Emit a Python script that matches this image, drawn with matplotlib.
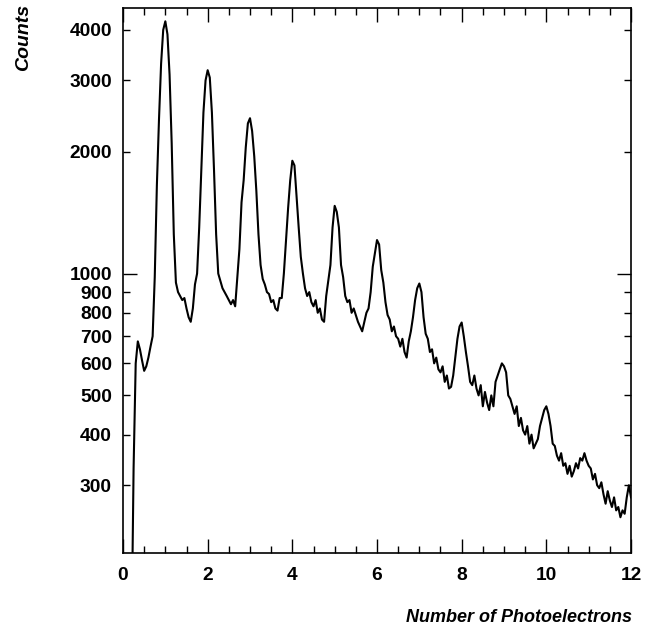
import numpy as np
import matplotlib
matplotlib.use("Agg")
import matplotlib.pyplot as plt
from matplotlib.ticker import FixedLocator, MultipleLocator

# Number of photoelectrons (bin centres, step 0.05 from 0.20 to 12.00)
x_start, x_step = 0.20, 0.05
counts = [
    120, 330, 600, 680, 650, 610, 575, 590, 620, 660, 700, 980,            # 0.20-0.75
    1650, 2400, 3300, 4000, 4200, 3900, 3100, 2100, 1250, 950,             # 0.80-1.25
    900, 880, 860, 870, 820, 780, 760, 820, 940, 1000,                     # 1.30-1.75
    1300, 1800, 2500, 3000, 3180, 3050, 2500, 1800, 1250, 1000,            # 1.80-2.25
    960, 920, 900, 880, 860, 840, 860, 830, 980, 1150,                     # 2.30-2.75
    1500, 1700, 2050, 2350, 2420, 2250, 1950, 1600, 1250, 1050,            # 2.80-3.25
    970, 940, 900, 890, 850, 860, 820, 810, 870, 870,                      # 3.30-3.75
    1000, 1200, 1450, 1700, 1900, 1850, 1550, 1300, 1100, 1000,            # 3.80-4.25
    920, 880, 900, 850, 830, 860, 800, 820, 770, 760,                      # 4.30-4.75
    880, 960, 1050, 1300, 1470, 1420, 1300, 1050, 980, 880,                # 4.80-5.25
    850, 860, 800, 820, 790, 760, 740, 720, 760, 800,                      # 5.30-5.75
    820, 900, 1040, 1120, 1210, 1180, 1020, 950, 850, 790,                 # 5.80-6.25
    770, 720, 740, 700, 690, 660, 690, 640, 620, 680,                      # 6.30-6.75
    720, 780, 860, 920, 945, 900, 780, 710, 690, 640,                      # 6.80-7.25
    650, 600, 620, 580, 570, 590, 540, 560, 520, 525,                      # 7.30-7.75
    560, 620, 690, 740, 757, 700, 640, 590, 540, 530,                      # 7.80-8.25
    560, 520, 500, 530, 470, 510, 480, 460, 500, 470,                      # 8.30-8.75
    540, 560, 580, 600, 590, 570, 500, 490, 470, 450,                      # 8.80-9.25
    470, 420, 440, 410, 400, 420, 380, 400, 370, 380,                      # 9.30-9.75
    390, 420, 440, 460, 470, 450, 420, 380, 375, 355,                      # 9.80-10.25
    345, 360, 335, 340, 320, 335, 315, 325, 340, 330,                      # 10.30-10.75
    350, 345, 360, 345, 335, 330, 310, 320, 300, 295,                      # 10.80-11.25
    305, 285, 270, 290, 275, 265, 280, 260, 265, 250,                      # 11.30-11.75
    260, 255, 280, 300, 280,                                               # 11.80-12.00
]
x = x_start + x_step * np.arange(len(counts))

y_major = [1000]
y_minor = [300, 400, 500, 600, 700, 800, 900, 2000, 3000, 4000]

plt.rcParams['font.family'] = ['Liberation Sans', 'DejaVu Sans']

fig = plt.figure(figsize=(6.46, 6.32), dpi=100)
ax = fig.add_axes([123/646, 1-553/632, (631-123)/646, (553-8)/632])
ax.plot(x, counts, color='black', lw=1.5)
ax.set_yscale('log')
ax.set_xlim(0, 12)
ax.set_ylim(204, 4530)

ax.xaxis.set_major_locator(MultipleLocator(2))
ax.xaxis.set_minor_locator(MultipleLocator(0.5))
ax.yaxis.set_major_locator(FixedLocator(y_major))
ax.yaxis.set_minor_locator(FixedLocator(y_minor))
fmt = plt.FuncFormatter(lambda v, p: f"{int(round(v))}")
ax.yaxis.set_major_formatter(fmt)
ax.yaxis.set_minor_formatter(fmt)

ax.tick_params(which='both', direction='in', top=True, right=True, width=1.0)
ax.tick_params(which='major', length=10, labelsize=13.8, pad=8)
ax.tick_params(which='minor', length=5, labelsize=13.8, pad=8)
ax.tick_params(axis='x', which='major', pad=10)
for sp in ax.spines.values():
    sp.set_linewidth(1.2)

fig.canvas.draw()
for lab in ax.get_xticklabels() + ax.get_yticklabels(which='both'):
    lab.set_fontweight('bold')

fig.text(24/646, 1-4/632, 'Counts', rotation=90, ha='center', va='top',
         fontsize=14, fontweight='bold', fontstyle='italic')
fig.text(632/646, 1-618/632, 'Number of Photoelectrons', ha='right', va='center',
         fontsize=13, fontweight='bold', fontstyle='italic')

fig.savefig('out.png', dpi=100)
